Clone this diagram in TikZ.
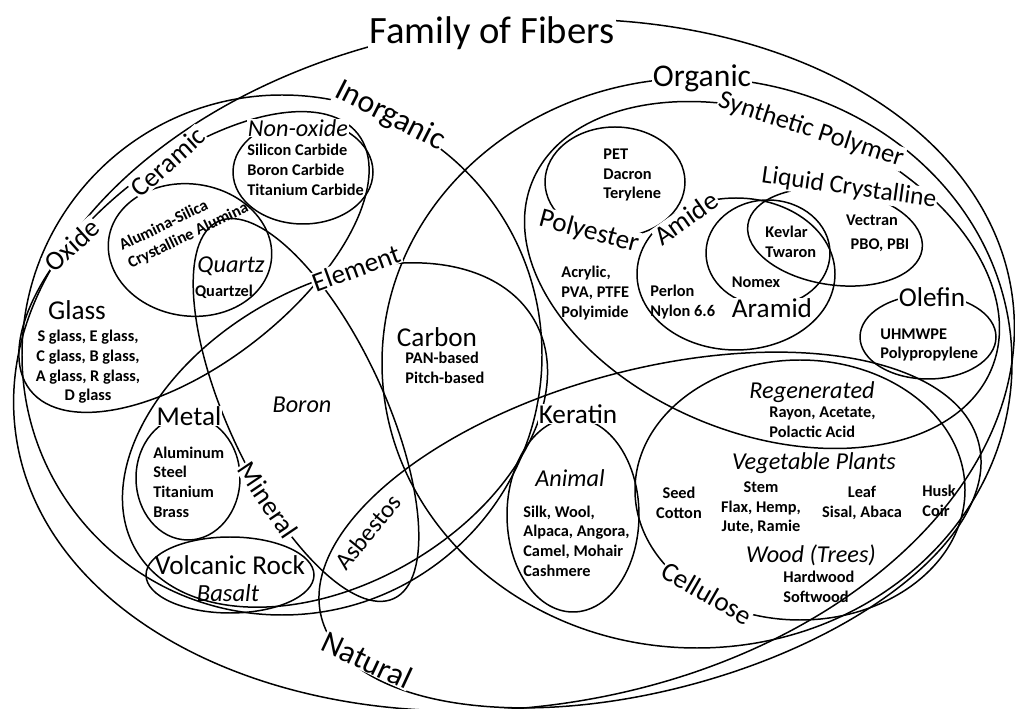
\documentclass[tikz,border=0pt]{standalone}
\usepackage{fontspec}
\setmainfont{Carlito}
\usepackage{tikz}

\begin{document}
\begin{tikzpicture}[x=0.02cm, y=-0.02cm,
    ring/.style={line width=0.85pt},
    lbl/.style={fill=white, inner sep=0.5pt, font=\fontsize{15.5}{18}\selectfont},
    biglbl/.style={fill=white, inner sep=0.5pt, font=\fontsize{18}{21}\selectfont},
    kind/.style={inner sep=0.5pt, font=\itshape\fontsize{13.8}{16}\selectfont},
    item/.style={inner sep=0pt, align=left, font=\bfseries\fontsize{9.3}{11.2}\selectfont}]
    \useasboundingbox[fill=white] (0,0) rectangle (1015,709);
    \draw[ring, rotate around={8:(514,365)}] (514,365) ellipse [x radius=503, y radius=342];
    \draw[ring] (282,355) circle [radius=260];
    \draw[ring] (697,363) ellipse [x radius=315, y radius=285];
    \draw[ring, rotate around={15:(650,530)}] (650,530) ellipse [x radius=340, y radius=160];
    \draw[ring, rotate around={38:(194,262)}] (194,262) ellipse [x radius=208, y radius=100];
    \draw[ring] (303,172) ellipse [x radius=70, y radius=52];
    \draw[ring, rotate around={-8:(190,250)}] (190,250) ellipse [x radius=82, y radius=66];
    \draw[ring, rotate around={30:(335,435)}] (335,435) ellipse [x radius=230, y radius=148];
    \draw[ring, rotate around={-65:(306,410)}] (306,410) ellipse [x radius=208, y radius=78];
    \draw[ring] (188,478) ellipse [x radius=52, y radius=62];
    \draw[ring] (230,575) ellipse [x radius=84, y radius=38];
    \draw[ring, rotate around={-22:(762,275)}] (762,275) ellipse [x radius=248, y radius=158];
    \draw[ring] (615,182) ellipse [x radius=70, y radius=55];
    \draw[ring] (736,274) ellipse [x radius=99, y radius=76];
    \draw[ring] (768,253) ellipse [x radius=62, y radius=53];
    \draw[ring, rotate around={-8:(835,237)}] (835,237) ellipse [x radius=88, y radius=48];
    \draw[ring] (928,337) ellipse [x radius=68, y radius=42];
    \draw[ring] (573,515) ellipse [x radius=66, y radius=97];
    \draw[ring] (800,490) ellipse [x radius=165, y radius=130];

    \node[fill=white, inner sep=1pt, font=\fontsize{22}{26}\selectfont] (family) at (492,33) {Family of Fibers};
    \node[biglbl, rotate=-27] (inorganic) at (390,116) {Inorganic};
    \node[biglbl] (organic) at (702,78) {Organic};
    \node[biglbl, rotate=-25] (natural) at (367,660) {Natural};
    \node[lbl, rotate=42] (oxide) at (72,245) {Oxide};
    \node[lbl, rotate=42] (ceramic) at (168,162) {Ceramic};
    \node[lbl] (glass) at (77,310) {Glass};
    \node[lbl, rotate=20] (element) at (356,268) {Element};
    \node[lbl] (metal) at (189,416) {Metal};
    \node[lbl, rotate=-56] (mineral) at (268,500) {Mineral};
    \node[inner sep=0.5pt, font=\fontsize{15.5}{18}\selectfont] (volcanic) at (230,565) {Volcanic Rock};
    \node[lbl, rotate=51, font=\fontsize{14}{16}\selectfont] (asbestos) at (368,532) {Asbestos};
    \node[inner sep=0.5pt, font=\fontsize{15.5}{18}\selectfont] (carbon) at (437,337) {Carbon};
    \node[lbl, rotate=-18, font=\fontsize{15}{18}\selectfont] (synthetic) at (811,130) {Synthetic Polymer};
    \node[lbl, rotate=-8, font=\fontsize{14.5}{17}\selectfont] (liquid) at (849,188) {Liquid Crystalline};
    \node[lbl, rotate=-15] (polyester) at (589,232) {Polyester};
    \node[lbl, rotate=35] (amide) at (686,218) {Amide};
    \node[lbl] (aramid) at (772,308) {Aramid};
    \node[lbl] (olefin) at (932,297) {Olefin};
    \node[lbl] (keratin) at (578,414) {Keratin};
    \node[lbl, rotate=-30] (cellulose) at (707,593) {Cellulose};

    \node[kind, fill=white] (nonoxide) at (298,128) {Non-oxide};
    \node[kind] (quartz) at (231,266) {Quartz};
    \node[kind] (boron) at (302,405) {Boron};
    \node[kind, font=\itshape\fontsize{14}{16}\selectfont] (basalt) at (228,593) {Basalt};
    \node[kind] (animal) at (570,478) {Animal};
    \node[kind] (regenerated) at (812,392) {Regenerated};
    \node[kind] (vegetable) at (814,463) {Vegetable Plants};
    \node[kind] (wood) at (811,555) {Wood (Trees)};

    \node[item, anchor=west] (carbides) at (247,170) {Silicon Carbide\\Boron Carbide\\Titanium Carbide};
    \node[item, rotate=26] (alumina) at (184,227) {Alumina-Silica\\Crystalline Alumina};
    \node[item] (quartzel) at (224,292) {Quartzel};
    \node[item, align=center] (glasses) at (88,367) {S glass, E glass,\\C glass, B glass,\\A glass, R glass,\\D glass};
    \node[item, anchor=west] (metals) at (153,482) {Aluminum\\Steel\\Titanium\\Brass};
    \node[item, anchor=west] (pan) at (405,368) {PAN-based\\Pitch-based};
    \node[item, anchor=west] (pet) at (603,175) {PET\\Dacron\\Terylene};
    \node[item, anchor=west] (acrylic) at (561,293) {Acrylic,\\PVA, PTFE\\Polyimide};
    \node[item, anchor=west] (perlon) at (650,302) {Perlon\\Nylon 6.6};
    \node[item] (nomex) at (756,282) {Nomex};
    \node[item, anchor=west] (kevlar) at (765,242) {Kevlar\\Twaron};
    \node[item] (vectran) at (872,220) {Vectran};
    \node[item] (pbo) at (880,245) {PBO, PBI};
    \node[item, anchor=west] (uhmwpe) at (880,345) {UHMWPE\\Polypropylene};
    \node[item, anchor=west] (rayon) at (769,422) {Rayon, Acetate,\\Polactic Acid};
    \node[item, align=center] (seed) at (679,503) {Seed\\Cotton};
    \node[item, align=center] (stem) at (761,508) {Stem\\Flax, Hemp,\\Jute, Ramie};
    \node[item, align=center] (leaf) at (862,503) {Leaf\\Sisal, Abaca};
    \node[item, anchor=west] (husk) at (922,501) {Husk\\Coir};
    \node[item, anchor=west] (hardwood) at (783,587) {Hardwood\\Softwood};
    \node[item, anchor=west] (silk) at (523,541) {Silk, Wool,\\Alpaca, Angora,\\Camel, Mohair\\Cashmere};
\end{tikzpicture}
\end{document}
